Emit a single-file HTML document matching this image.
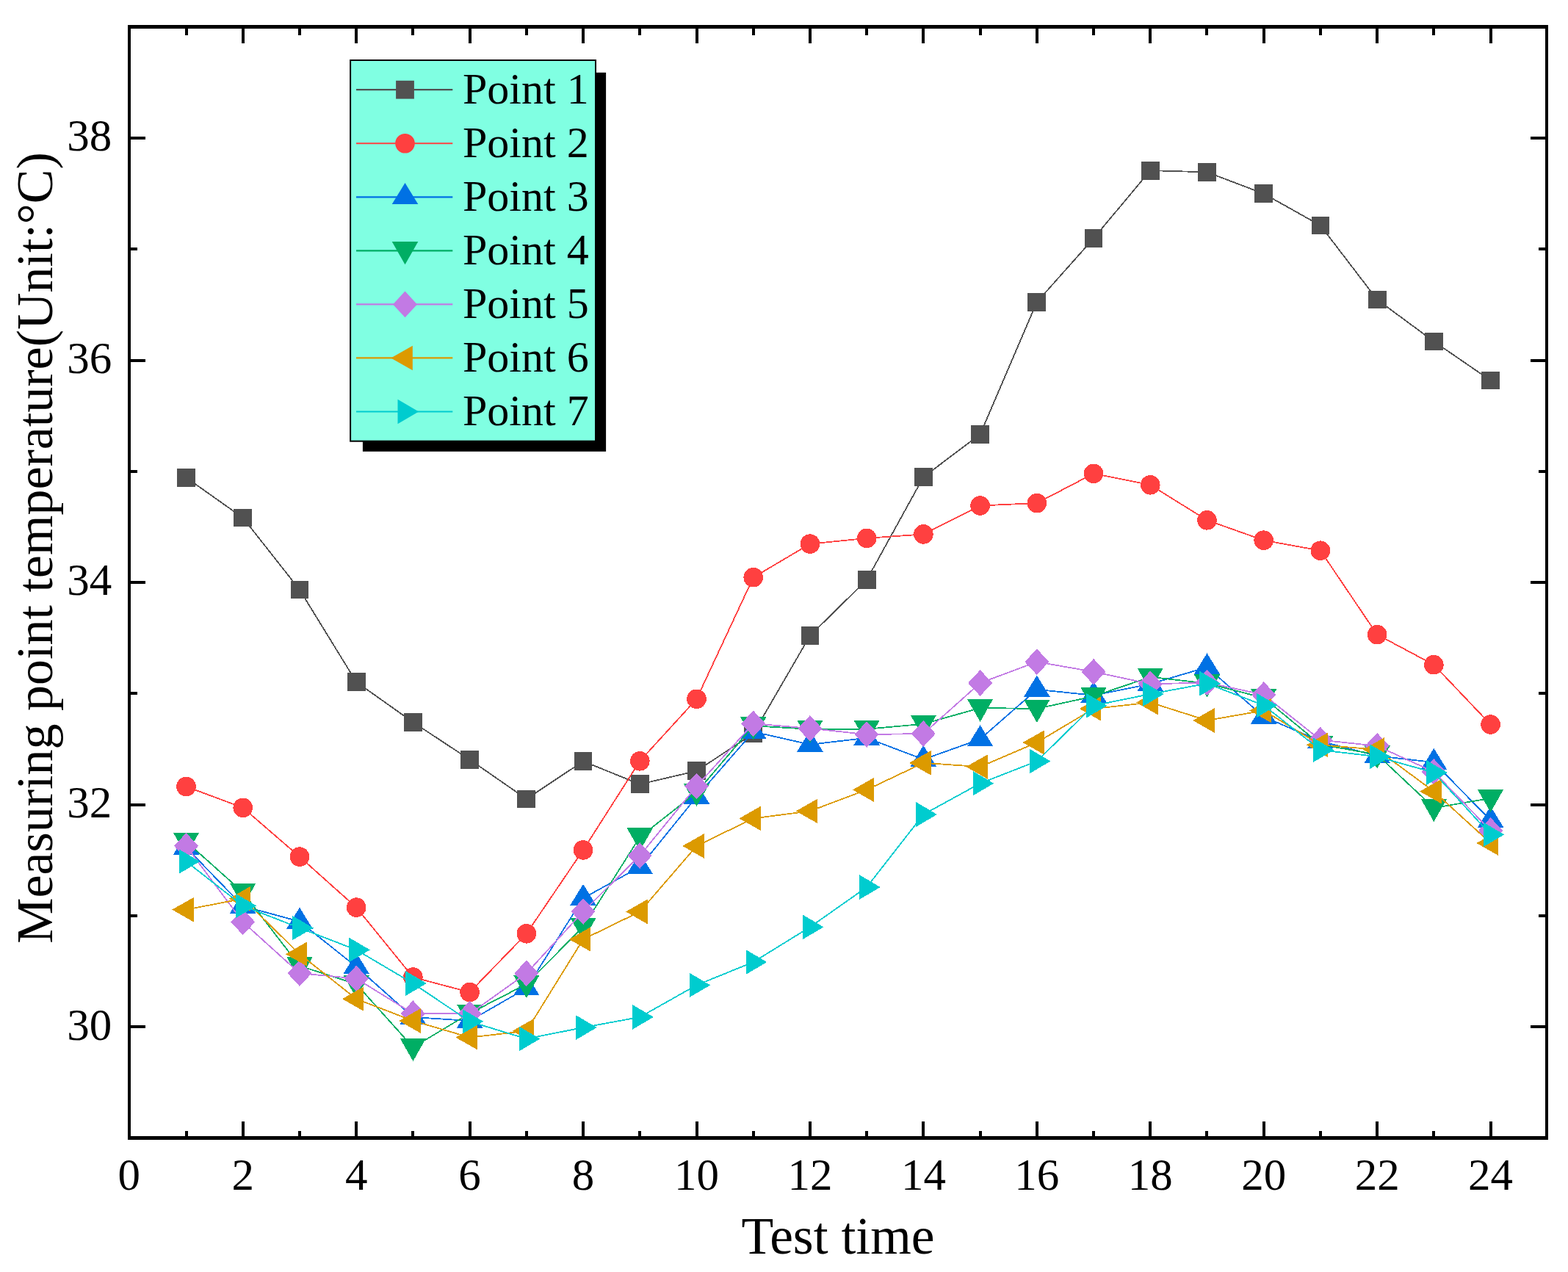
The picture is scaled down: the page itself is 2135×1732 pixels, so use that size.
<!DOCTYPE html>
<html><head><meta charset="utf-8"><title>Measuring point temperature</title>
<style>
html,body{margin:0;padding:0;background:#fff;}
body{width:2135px;height:1732px;overflow:hidden;}
svg{display:block;}
text{font-family:"Liberation Serif","Times New Roman",serif;fill:#000;}
</style></head><body>
<svg width="2135" height="1732" viewBox="0 0 2135 1732">
<rect x="0" y="0" width="2135" height="1732" fill="#fff"/>

<g stroke-linejoin="round" shape-rendering="crispEdges">
<polyline points="253.52,650.3 330.74,705 407.96,803 485.18,928.6 562.4,983.4 639.62,1034.3 716.84,1087.9 794.06,1036.6 871.28,1067.8 948.5,1049.8 1025.72,998.8 1102.94,865.5 1180.16,789.6 1257.38,649.5 1334.6,591.5 1411.82,411.4 1489.04,324.6 1566.26,232.1 1643.48,234.4 1720.7,263.7 1797.92,307 1875.14,408 1952.36,464.9 2029.58,518" fill="none" stroke="#515151" stroke-width="1.8"/>
<rect x="241.12" y="637.9" width="24.8" height="24.8" fill="#515151"/>
<rect x="318.34" y="692.6" width="24.8" height="24.8" fill="#515151"/>
<rect x="395.56" y="790.6" width="24.8" height="24.8" fill="#515151"/>
<rect x="472.78" y="916.2" width="24.8" height="24.8" fill="#515151"/>
<rect x="550" y="971" width="24.8" height="24.8" fill="#515151"/>
<rect x="627.22" y="1021.9" width="24.8" height="24.8" fill="#515151"/>
<rect x="704.44" y="1075.5" width="24.8" height="24.8" fill="#515151"/>
<rect x="781.66" y="1024.2" width="24.8" height="24.8" fill="#515151"/>
<rect x="858.88" y="1055.4" width="24.8" height="24.8" fill="#515151"/>
<rect x="936.1" y="1037.4" width="24.8" height="24.8" fill="#515151"/>
<rect x="1013.32" y="986.4" width="24.8" height="24.8" fill="#515151"/>
<rect x="1090.54" y="853.1" width="24.8" height="24.8" fill="#515151"/>
<rect x="1167.76" y="777.2" width="24.8" height="24.8" fill="#515151"/>
<rect x="1244.98" y="637.1" width="24.8" height="24.8" fill="#515151"/>
<rect x="1322.2" y="579.1" width="24.8" height="24.8" fill="#515151"/>
<rect x="1399.42" y="399" width="24.8" height="24.8" fill="#515151"/>
<rect x="1476.64" y="312.2" width="24.8" height="24.8" fill="#515151"/>
<rect x="1553.86" y="219.7" width="24.8" height="24.8" fill="#515151"/>
<rect x="1631.08" y="222" width="24.8" height="24.8" fill="#515151"/>
<rect x="1708.3" y="251.3" width="24.8" height="24.8" fill="#515151"/>
<rect x="1785.52" y="294.6" width="24.8" height="24.8" fill="#515151"/>
<rect x="1862.74" y="395.6" width="24.8" height="24.8" fill="#515151"/>
<rect x="1939.96" y="452.5" width="24.8" height="24.8" fill="#515151"/>
<rect x="2017.18" y="505.6" width="24.8" height="24.8" fill="#515151"/>
<polyline points="253.52,1071 330.74,1099.8 407.96,1166.6 485.18,1235.6 562.4,1330.6 639.62,1351.1 716.84,1271.3 794.06,1157.4 871.28,1036.3 948.5,951.8 1025.72,786.2 1102.94,740.6 1180.16,732.9 1257.38,727.4 1334.6,688.5 1411.82,685.1 1489.04,644.8 1566.26,660.3 1643.48,708.3 1720.7,735.7 1797.92,749.7 1875.14,864.1 1952.36,905.2 2029.58,986.5" fill="none" stroke="#FF4040" stroke-width="1.8"/>
<circle cx="253.52" cy="1071" r="13.3" fill="#FF4040"/>
<circle cx="330.74" cy="1099.8" r="13.3" fill="#FF4040"/>
<circle cx="407.96" cy="1166.6" r="13.3" fill="#FF4040"/>
<circle cx="485.18" cy="1235.6" r="13.3" fill="#FF4040"/>
<circle cx="562.4" cy="1330.6" r="13.3" fill="#FF4040"/>
<circle cx="639.62" cy="1351.1" r="13.3" fill="#FF4040"/>
<circle cx="716.84" cy="1271.3" r="13.3" fill="#FF4040"/>
<circle cx="794.06" cy="1157.4" r="13.3" fill="#FF4040"/>
<circle cx="871.28" cy="1036.3" r="13.3" fill="#FF4040"/>
<circle cx="948.5" cy="951.8" r="13.3" fill="#FF4040"/>
<circle cx="1025.72" cy="786.2" r="13.3" fill="#FF4040"/>
<circle cx="1102.94" cy="740.6" r="13.3" fill="#FF4040"/>
<circle cx="1180.16" cy="732.9" r="13.3" fill="#FF4040"/>
<circle cx="1257.38" cy="727.4" r="13.3" fill="#FF4040"/>
<circle cx="1334.6" cy="688.5" r="13.3" fill="#FF4040"/>
<circle cx="1411.82" cy="685.1" r="13.3" fill="#FF4040"/>
<circle cx="1489.04" cy="644.8" r="13.3" fill="#FF4040"/>
<circle cx="1566.26" cy="660.3" r="13.3" fill="#FF4040"/>
<circle cx="1643.48" cy="708.3" r="13.3" fill="#FF4040"/>
<circle cx="1720.7" cy="735.7" r="13.3" fill="#FF4040"/>
<circle cx="1797.92" cy="749.7" r="13.3" fill="#FF4040"/>
<circle cx="1875.14" cy="864.1" r="13.3" fill="#FF4040"/>
<circle cx="1952.36" cy="905.2" r="13.3" fill="#FF4040"/>
<circle cx="2029.58" cy="986.5" r="13.3" fill="#FF4040"/>
<polyline points="253.52,1154 330.74,1233.8 407.96,1254.8 485.18,1316.4 562.4,1385 639.62,1390 716.84,1345.6 794.06,1223 871.28,1180.5 948.5,1084.9 1025.72,996.3 1102.94,1013.8 1180.16,1004.8 1257.38,1034 1334.6,1006.5 1411.82,938.8 1489.04,946.8 1566.26,931.3 1643.48,908.5 1720.7,975.9 1797.92,1009.3 1875.14,1029.3 1952.36,1038 2029.58,1117" fill="none" stroke="#0071E4" stroke-width="1.8"/>
<polygon points="253.52,1134.8 271.32,1163.8 235.72,1163.8" fill="#0071E4"/>
<polygon points="330.74,1214.6 348.54,1243.6 312.94,1243.6" fill="#0071E4"/>
<polygon points="407.96,1235.6 425.76,1264.6 390.16,1264.6" fill="#0071E4"/>
<polygon points="485.18,1297.2 502.98,1326.2 467.38,1326.2" fill="#0071E4"/>
<polygon points="562.4,1365.8 580.2,1394.8 544.6,1394.8" fill="#0071E4"/>
<polygon points="639.62,1370.8 657.42,1399.8 621.82,1399.8" fill="#0071E4"/>
<polygon points="716.84,1326.4 734.64,1355.4 699.04,1355.4" fill="#0071E4"/>
<polygon points="794.06,1203.8 811.86,1232.8 776.26,1232.8" fill="#0071E4"/>
<polygon points="871.28,1161.3 889.08,1190.3 853.48,1190.3" fill="#0071E4"/>
<polygon points="948.5,1065.7 966.3,1094.7 930.7,1094.7" fill="#0071E4"/>
<polygon points="1025.72,977.1 1043.52,1006.1 1007.92,1006.1" fill="#0071E4"/>
<polygon points="1102.94,994.6 1120.74,1023.6 1085.14,1023.6" fill="#0071E4"/>
<polygon points="1180.16,985.6 1197.96,1014.6 1162.36,1014.6" fill="#0071E4"/>
<polygon points="1257.38,1014.8 1275.18,1043.8 1239.58,1043.8" fill="#0071E4"/>
<polygon points="1334.6,987.3 1352.4,1016.3 1316.8,1016.3" fill="#0071E4"/>
<polygon points="1411.82,919.6 1429.62,948.6 1394.02,948.6" fill="#0071E4"/>
<polygon points="1489.04,927.6 1506.84,956.6 1471.24,956.6" fill="#0071E4"/>
<polygon points="1566.26,912.1 1584.06,941.1 1548.46,941.1" fill="#0071E4"/>
<polygon points="1643.48,889.3 1661.28,918.3 1625.68,918.3" fill="#0071E4"/>
<polygon points="1720.7,956.7 1738.5,985.7 1702.9,985.7" fill="#0071E4"/>
<polygon points="1797.92,990.1 1815.72,1019.1 1780.12,1019.1" fill="#0071E4"/>
<polygon points="1875.14,1010.1 1892.94,1039.1 1857.34,1039.1" fill="#0071E4"/>
<polygon points="1952.36,1018.8 1970.16,1047.8 1934.56,1047.8" fill="#0071E4"/>
<polygon points="2029.58,1097.8 2047.38,1126.8 2011.78,1126.8" fill="#0071E4"/>
<polyline points="253.52,1145.8 330.74,1215 407.96,1315.2 485.18,1340 562.4,1426 639.62,1379.8 716.84,1340 794.06,1261.8 871.28,1139.6 948.5,1079 1025.72,988.3 1102.94,992.8 1180.16,992.8 1257.38,985.8 1334.6,963.9 1411.82,965 1489.04,948.1 1566.26,921.8 1643.48,930.5 1720.7,950.3 1797.92,1013.8 1875.14,1027.5 1952.36,1100 2029.58,1087" fill="none" stroke="#00AE64" stroke-width="1.8"/>
<polygon points="235.72,1133.5 271.32,1133.5 253.52,1164.8" fill="#00AE64"/>
<polygon points="312.94,1202.7 348.54,1202.7 330.74,1234" fill="#00AE64"/>
<polygon points="390.16,1302.9 425.76,1302.9 407.96,1334.2" fill="#00AE64"/>
<polygon points="467.38,1327.7 502.98,1327.7 485.18,1359" fill="#00AE64"/>
<polygon points="544.6,1413.7 580.2,1413.7 562.4,1445" fill="#00AE64"/>
<polygon points="621.82,1367.5 657.42,1367.5 639.62,1398.8" fill="#00AE64"/>
<polygon points="699.04,1327.7 734.64,1327.7 716.84,1359" fill="#00AE64"/>
<polygon points="776.26,1249.5 811.86,1249.5 794.06,1280.8" fill="#00AE64"/>
<polygon points="853.48,1127.3 889.08,1127.3 871.28,1158.6" fill="#00AE64"/>
<polygon points="930.7,1066.7 966.3,1066.7 948.5,1098" fill="#00AE64"/>
<polygon points="1007.92,976 1043.52,976 1025.72,1007.3" fill="#00AE64"/>
<polygon points="1085.14,980.5 1120.74,980.5 1102.94,1011.8" fill="#00AE64"/>
<polygon points="1162.36,980.5 1197.96,980.5 1180.16,1011.8" fill="#00AE64"/>
<polygon points="1239.58,973.5 1275.18,973.5 1257.38,1004.8" fill="#00AE64"/>
<polygon points="1316.8,951.6 1352.4,951.6 1334.6,982.9" fill="#00AE64"/>
<polygon points="1394.02,952.7 1429.62,952.7 1411.82,984" fill="#00AE64"/>
<polygon points="1471.24,935.8 1506.84,935.8 1489.04,967.1" fill="#00AE64"/>
<polygon points="1548.46,909.5 1584.06,909.5 1566.26,940.8" fill="#00AE64"/>
<polygon points="1625.68,918.2 1661.28,918.2 1643.48,949.5" fill="#00AE64"/>
<polygon points="1702.9,938 1738.5,938 1720.7,969.3" fill="#00AE64"/>
<polygon points="1780.12,1001.5 1815.72,1001.5 1797.92,1032.8" fill="#00AE64"/>
<polygon points="1857.34,1015.2 1892.94,1015.2 1875.14,1046.5" fill="#00AE64"/>
<polygon points="1934.56,1087.7 1970.16,1087.7 1952.36,1119" fill="#00AE64"/>
<polygon points="2011.78,1074.7 2047.38,1074.7 2029.58,1106" fill="#00AE64"/>
<polyline points="253.52,1151.9 330.74,1255.4 407.96,1325.2 485.18,1332.5 562.4,1380.1 639.62,1380.5 716.84,1325.3 794.06,1241.2 871.28,1165 948.5,1070.6 1025.72,985.3 1102.94,991.8 1180.16,1000.1 1257.38,999 1334.6,930 1411.82,901.2 1489.04,914.7 1566.26,931.3 1643.48,929.5 1720.7,946 1797.92,1007.6 1875.14,1015.7 1952.36,1051 2029.58,1131" fill="none" stroke="#C27AE4" stroke-width="1.8"/>
<polygon points="253.52,1134.1 270.02,1151.9 253.52,1169.7 237.02,1151.9" fill="#C27AE4"/>
<polygon points="330.74,1237.6 347.24,1255.4 330.74,1273.2 314.24,1255.4" fill="#C27AE4"/>
<polygon points="407.96,1307.4 424.46,1325.2 407.96,1343 391.46,1325.2" fill="#C27AE4"/>
<polygon points="485.18,1314.7 501.68,1332.5 485.18,1350.3 468.68,1332.5" fill="#C27AE4"/>
<polygon points="562.4,1362.3 578.9,1380.1 562.4,1397.9 545.9,1380.1" fill="#C27AE4"/>
<polygon points="639.62,1362.7 656.12,1380.5 639.62,1398.3 623.12,1380.5" fill="#C27AE4"/>
<polygon points="716.84,1307.5 733.34,1325.3 716.84,1343.1 700.34,1325.3" fill="#C27AE4"/>
<polygon points="794.06,1223.4 810.56,1241.2 794.06,1259 777.56,1241.2" fill="#C27AE4"/>
<polygon points="871.28,1147.2 887.78,1165 871.28,1182.8 854.78,1165" fill="#C27AE4"/>
<polygon points="948.5,1052.8 965,1070.6 948.5,1088.4 932,1070.6" fill="#C27AE4"/>
<polygon points="1025.72,967.5 1042.22,985.3 1025.72,1003.1 1009.22,985.3" fill="#C27AE4"/>
<polygon points="1102.94,974 1119.44,991.8 1102.94,1009.6 1086.44,991.8" fill="#C27AE4"/>
<polygon points="1180.16,982.3 1196.66,1000.1 1180.16,1017.9 1163.66,1000.1" fill="#C27AE4"/>
<polygon points="1257.38,981.2 1273.88,999 1257.38,1016.8 1240.88,999" fill="#C27AE4"/>
<polygon points="1334.6,912.2 1351.1,930 1334.6,947.8 1318.1,930" fill="#C27AE4"/>
<polygon points="1411.82,883.4 1428.32,901.2 1411.82,919 1395.32,901.2" fill="#C27AE4"/>
<polygon points="1489.04,896.9 1505.54,914.7 1489.04,932.5 1472.54,914.7" fill="#C27AE4"/>
<polygon points="1566.26,913.5 1582.76,931.3 1566.26,949.1 1549.76,931.3" fill="#C27AE4"/>
<polygon points="1643.48,911.7 1659.98,929.5 1643.48,947.3 1626.98,929.5" fill="#C27AE4"/>
<polygon points="1720.7,928.2 1737.2,946 1720.7,963.8 1704.2,946" fill="#C27AE4"/>
<polygon points="1797.92,989.8 1814.42,1007.6 1797.92,1025.4 1781.42,1007.6" fill="#C27AE4"/>
<polygon points="1875.14,997.9 1891.64,1015.7 1875.14,1033.5 1858.64,1015.7" fill="#C27AE4"/>
<polygon points="1952.36,1033.2 1968.86,1051 1952.36,1068.8 1935.86,1051" fill="#C27AE4"/>
<polygon points="2029.58,1113.2 2046.08,1131 2029.58,1148.8 2013.08,1131" fill="#C27AE4"/>
<polyline points="253.52,1238.6 330.74,1223.7 407.96,1299.1 485.18,1360.2 562.4,1390 639.62,1412.6 716.84,1403.8 794.06,1279 871.28,1241.4 948.5,1151.9 1025.72,1114.4 1102.94,1104.4 1180.16,1075.4 1257.38,1038.8 1334.6,1044.1 1411.82,1011 1489.04,965 1566.26,956.5 1643.48,981 1720.7,967.5 1797.92,1014.3 1875.14,1020.7 1952.36,1077.6 2029.58,1148" fill="none" stroke="#DC9A00" stroke-width="1.8"/>
<polygon points="234.32,1238.6 263.82,1221.8 263.82,1255.4" fill="#DC9A00"/>
<polygon points="311.54,1223.7 341.04,1206.9 341.04,1240.5" fill="#DC9A00"/>
<polygon points="388.76,1299.1 418.26,1282.3 418.26,1315.9" fill="#DC9A00"/>
<polygon points="465.98,1360.2 495.48,1343.4 495.48,1377" fill="#DC9A00"/>
<polygon points="543.2,1390 572.7,1373.2 572.7,1406.8" fill="#DC9A00"/>
<polygon points="620.42,1412.6 649.92,1395.8 649.92,1429.4" fill="#DC9A00"/>
<polygon points="697.64,1403.8 727.14,1387 727.14,1420.6" fill="#DC9A00"/>
<polygon points="774.86,1279 804.36,1262.2 804.36,1295.8" fill="#DC9A00"/>
<polygon points="852.08,1241.4 881.58,1224.6 881.58,1258.2" fill="#DC9A00"/>
<polygon points="929.3,1151.9 958.8,1135.1 958.8,1168.7" fill="#DC9A00"/>
<polygon points="1006.52,1114.4 1036.02,1097.6 1036.02,1131.2" fill="#DC9A00"/>
<polygon points="1083.74,1104.4 1113.24,1087.6 1113.24,1121.2" fill="#DC9A00"/>
<polygon points="1160.96,1075.4 1190.46,1058.6 1190.46,1092.2" fill="#DC9A00"/>
<polygon points="1238.18,1038.8 1267.68,1022 1267.68,1055.6" fill="#DC9A00"/>
<polygon points="1315.4,1044.1 1344.9,1027.3 1344.9,1060.9" fill="#DC9A00"/>
<polygon points="1392.62,1011 1422.12,994.2 1422.12,1027.8" fill="#DC9A00"/>
<polygon points="1469.84,965 1499.34,948.2 1499.34,981.8" fill="#DC9A00"/>
<polygon points="1547.06,956.5 1576.56,939.7 1576.56,973.3" fill="#DC9A00"/>
<polygon points="1624.28,981 1653.78,964.2 1653.78,997.8" fill="#DC9A00"/>
<polygon points="1701.5,967.5 1731,950.7 1731,984.3" fill="#DC9A00"/>
<polygon points="1778.72,1014.3 1808.22,997.5 1808.22,1031.1" fill="#DC9A00"/>
<polygon points="1855.94,1020.7 1885.44,1003.9 1885.44,1037.5" fill="#DC9A00"/>
<polygon points="1933.16,1077.6 1962.66,1060.8 1962.66,1094.4" fill="#DC9A00"/>
<polygon points="2010.38,1148 2039.88,1131.2 2039.88,1164.8" fill="#DC9A00"/>
<polyline points="253.52,1173 330.74,1233.4 407.96,1263.5 485.18,1293.4 562.4,1339 639.62,1390.9 716.84,1414.5 794.06,1399.1 871.28,1384.9 948.5,1341.4 1025.72,1310 1102.94,1262.3 1180.16,1208 1257.38,1109 1334.6,1066.7 1411.82,1036.5 1489.04,960.8 1566.26,945 1643.48,930.7 1720.7,960.4 1797.92,1021.2 1875.14,1030.2 1952.36,1052 2029.58,1136.4" fill="none" stroke="#00CCCF" stroke-width="1.8"/>
<polygon points="272.12,1173 243.52,1156.2 243.52,1189.8" fill="#00CCCF"/>
<polygon points="349.34,1233.4 320.74,1216.6 320.74,1250.2" fill="#00CCCF"/>
<polygon points="426.56,1263.5 397.96,1246.7 397.96,1280.3" fill="#00CCCF"/>
<polygon points="503.78,1293.4 475.18,1276.6 475.18,1310.2" fill="#00CCCF"/>
<polygon points="581,1339 552.4,1322.2 552.4,1355.8" fill="#00CCCF"/>
<polygon points="658.22,1390.9 629.62,1374.1 629.62,1407.7" fill="#00CCCF"/>
<polygon points="735.44,1414.5 706.84,1397.7 706.84,1431.3" fill="#00CCCF"/>
<polygon points="812.66,1399.1 784.06,1382.3 784.06,1415.9" fill="#00CCCF"/>
<polygon points="889.88,1384.9 861.28,1368.1 861.28,1401.7" fill="#00CCCF"/>
<polygon points="967.1,1341.4 938.5,1324.6 938.5,1358.2" fill="#00CCCF"/>
<polygon points="1044.32,1310 1015.72,1293.2 1015.72,1326.8" fill="#00CCCF"/>
<polygon points="1121.54,1262.3 1092.94,1245.5 1092.94,1279.1" fill="#00CCCF"/>
<polygon points="1198.76,1208 1170.16,1191.2 1170.16,1224.8" fill="#00CCCF"/>
<polygon points="1275.98,1109 1247.38,1092.2 1247.38,1125.8" fill="#00CCCF"/>
<polygon points="1353.2,1066.7 1324.6,1049.9 1324.6,1083.5" fill="#00CCCF"/>
<polygon points="1430.42,1036.5 1401.82,1019.7 1401.82,1053.3" fill="#00CCCF"/>
<polygon points="1507.64,960.8 1479.04,944 1479.04,977.6" fill="#00CCCF"/>
<polygon points="1584.86,945 1556.26,928.2 1556.26,961.8" fill="#00CCCF"/>
<polygon points="1662.08,930.7 1633.48,913.9 1633.48,947.5" fill="#00CCCF"/>
<polygon points="1739.3,960.4 1710.7,943.6 1710.7,977.2" fill="#00CCCF"/>
<polygon points="1816.52,1021.2 1787.92,1004.4 1787.92,1038" fill="#00CCCF"/>
<polygon points="1893.74,1030.2 1865.14,1013.4 1865.14,1047" fill="#00CCCF"/>
<polygon points="1970.96,1052 1942.36,1035.2 1942.36,1068.8" fill="#00CCCF"/>
<polygon points="2048.18,1136.4 2019.58,1119.6 2019.58,1153.2" fill="#00CCCF"/>
</g>
<g stroke="#000" fill="none" shape-rendering="crispEdges">
<rect x="176.15" y="36.5" width="1929.85" height="1512.9" stroke-width="4.3"/>
<path d="M253.52 1547.25V1540.45M253.52 38.65V47.65M330.74 1547.25V1527.25M330.74 38.65V58.65M407.96 1547.25V1540.45M407.96 38.65V47.65M485.18 1547.25V1527.25M485.18 38.65V58.65M562.4 1547.25V1540.45M562.4 38.65V47.65M639.62 1547.25V1527.25M639.62 38.65V58.65M716.84 1547.25V1540.45M716.84 38.65V47.65M794.06 1547.25V1527.25M794.06 38.65V58.65M871.28 1547.25V1540.45M871.28 38.65V47.65M948.5 1547.25V1527.25M948.5 38.65V58.65M1025.72 1547.25V1540.45M1025.72 38.65V47.65M1102.94 1547.25V1527.25M1102.94 38.65V58.65M1180.16 1547.25V1540.45M1180.16 38.65V47.65M1257.38 1547.25V1527.25M1257.38 38.65V58.65M1334.6 1547.25V1540.45M1334.6 38.65V47.65M1411.82 1547.25V1527.25M1411.82 38.65V58.65M1489.04 1547.25V1540.45M1489.04 38.65V47.65M1566.26 1547.25V1527.25M1566.26 38.65V58.65M1643.48 1547.25V1540.45M1643.48 38.65V47.65M1720.7 1547.25V1527.25M1720.7 38.65V58.65M1797.92 1547.25V1540.45M1797.92 38.65V47.65M1875.14 1547.25V1527.25M1875.14 38.65V58.65M1952.36 1547.25V1540.45M1952.36 38.65V47.65M2029.58 1547.25V1527.25M2029.58 38.65V58.65M178.3 1398.16H198.3M2103.85 1398.16H2083.85M178.3 1246.89H187.3M2103.85 1246.89H2094.85M178.3 1095.62H198.3M2103.85 1095.62H2083.85M178.3 944.35H187.3M2103.85 944.35H2094.85M178.3 793.08H198.3M2103.85 793.08H2083.85M178.3 641.81H187.3M2103.85 641.81H2094.85M178.3 490.54H198.3M2103.85 490.54H2083.85M178.3 339.27H187.3M2103.85 339.27H2094.85M178.3 188H198.3M2103.85 188H2083.85" stroke-width="4"/>
</g>
<g font-size="61" text-anchor="middle">
<text x="175.8" y="1620.3">0</text>
<text x="330.74" y="1620.3">2</text>
<text x="485.18" y="1620.3">4</text>
<text x="639.62" y="1620.3">6</text>
<text x="794.06" y="1620.3">8</text>
<text x="948.5" y="1620.3">10</text>
<text x="1102.94" y="1620.3">12</text>
<text x="1257.38" y="1620.3">14</text>
<text x="1411.82" y="1620.3">16</text>
<text x="1566.26" y="1620.3">18</text>
<text x="1720.7" y="1620.3">20</text>
<text x="1875.14" y="1620.3">22</text>
<text x="2029.58" y="1620.3">24</text>
</g>
<g font-size="61" text-anchor="end">
<text x="152.3" y="1415.56">30</text>
<text x="152.3" y="1113.02">32</text>
<text x="152.3" y="810.48">34</text>
<text x="152.3" y="507.94">36</text>
<text x="152.3" y="205.4">38</text>
</g>
<text x="1141" y="1707" font-size="71.5" text-anchor="middle">Test time</text>
<text transform="translate(70.5 746) rotate(-90)" font-size="70" text-anchor="middle">Measuring point temperature(Unit:°C)</text>
<rect x="493.9" y="98.8" width="331.2" height="516" fill="#000"/>
<rect x="477.1" y="82" width="333.9" height="518.7" fill="#80FFE2" stroke="#000" stroke-width="2"/>
<path d="M485 122.2H616.3" stroke="#515151" stroke-width="2.2"/>
<rect x="539.1" y="109.8" width="24.8" height="24.8" fill="#515151"/>
<text x="630" y="141" font-size="60">Point 1</text>
<path d="M485 195.25H616.3" stroke="#FF4040" stroke-width="2.2"/>
<circle cx="551.5" cy="195.25" r="13.3" fill="#FF4040"/>
<text x="630" y="214.05" font-size="60">Point 2</text>
<path d="M485 268.3H616.3" stroke="#0071E4" stroke-width="2.2"/>
<polygon points="551.5,249.1 569.3,278.1 533.7,278.1" fill="#0071E4"/>
<text x="630" y="287.1" font-size="60">Point 3</text>
<path d="M485 341.35H616.3" stroke="#00AE64" stroke-width="2.2"/>
<polygon points="533.7,329.05 569.3,329.05 551.5,360.35" fill="#00AE64"/>
<text x="630" y="360.15" font-size="60">Point 4</text>
<path d="M485 414.4H616.3" stroke="#C27AE4" stroke-width="2.2"/>
<polygon points="551.5,396.6 568,414.4 551.5,432.2 535,414.4" fill="#C27AE4"/>
<text x="630" y="433.2" font-size="60">Point 5</text>
<path d="M485 487.45H616.3" stroke="#DC9A00" stroke-width="2.2"/>
<polygon points="532.3,487.45 561.8,470.65 561.8,504.25" fill="#DC9A00"/>
<text x="630" y="506.25" font-size="60">Point 6</text>
<path d="M485 560.5H616.3" stroke="#00CCCF" stroke-width="2.2"/>
<polygon points="570.1,560.5 541.5,543.7 541.5,577.3" fill="#00CCCF"/>
<text x="630" y="579.3" font-size="60">Point 7</text>
</svg>
</body></html>
